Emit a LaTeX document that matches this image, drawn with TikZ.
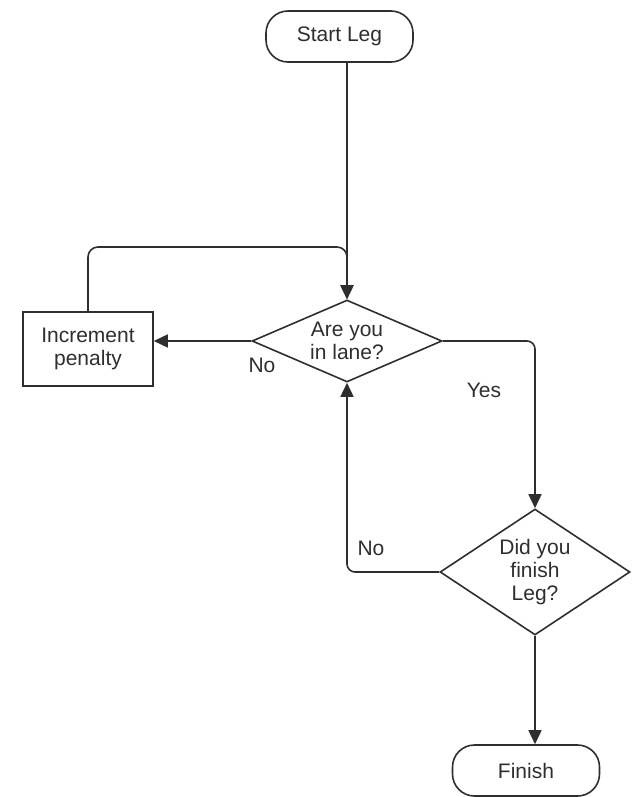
\documentclass[tikz,border=0pt]{standalone}
\usepackage{fontspec}
\setmainfont{Liberation Sans}
\usetikzlibrary{shapes.geometric,arrows.meta}
\definecolor{ink}{HTML}{2E2E2E}
\tikzset{
  base/.style={draw=ink, line width=1.6pt, text=ink, font=\fontsize{21}{23}\selectfont, align=center, inner sep=0pt},
  term/.style={base, rectangle, rounded corners=22pt, minimum width=147pt, minimum height=51pt},
  proc/.style={base, rectangle, minimum width=130pt, minimum height=74pt},
  decision/.style={base, diamond},
  conn/.style={draw=ink, line width=1.6pt, -{Triangle[length=14pt,width=13pt]}},
  lbl/.style={text=ink, font=\fontsize{21}{23}\selectfont, inner sep=0pt}
}
\begin{document}
\begin{tikzpicture}[x=1pt,y=-1pt]
\useasboundingbox (0,0) rectangle (637,797);
\node[term] (start) at (339.5,36.5) {Start Leg};
\node[decision, aspect=2.3, minimum width=190pt, minimum height=82pt] (d1) at (347,341) {Are you\\in lane?};
\node[proc] (pen) at (88,349) {Increment\\penalty};
\node[decision, aspect=1.5, minimum width=190pt, minimum height=126pt] (d2) at (535,572) {Did you\\finish\\Leg?};
\node[term] (fin) at (526,770.5) {Finish};
\coordinate (top) at (87,247);
\draw[conn] (start.south -| d1.north) -- (d1.north);
\draw[conn, rounded corners=10pt] (pen.north) |- (top -| d1.north) -- (d1.north);
\draw[conn] (d1.west) -- (pen.east |- d1.west);
\draw[conn, rounded corners=8pt] (d1.east) -| (d2.north);
\draw[conn, rounded corners=8pt] (d2.west) -| (d1.south);
\draw[conn] (d2.south) -- (d2.south |- fin.north);
\node[lbl] (lno1) at (262,365) {No};
\node[lbl] (lyes) at (484,390) {Yes};
\node[lbl] (lno2) at (371,548) {No};
\end{tikzpicture}
\end{document}
